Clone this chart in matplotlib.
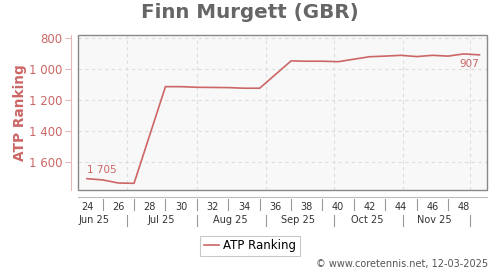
import matplotlib
matplotlib.use("Agg")
import matplotlib.pyplot as plt
from matplotlib.patches import Rectangle
from matplotlib.ticker import FuncFormatter
from datetime import date

# ---- data ----
weeks = [24, 25, 26, 27, 29, 30, 31, 32, 33, 34, 35, 37, 38, 39, 40, 42, 43, 44, 45, 46, 47, 48, 49]
ranking = [1705, 1713, 1733, 1735, 1112, 1112, 1116, 1117, 1118, 1122, 1122,
           946, 948, 948, 951, 919, 915, 910, 918, 910, 915, 901, 907]
week_ticks = list(range(24, 49, 2))
week_separators = list(range(25, 48, 2))
month_labels = ["Jun 25", "Jul 25", "Aug 25", "Sep 25", "Oct 25", "Nov 25"]
month_mids = [date(2025, 6, 16), date(2025, 7, 16), date(2025, 8, 16),
              date(2025, 9, 15), date(2025, 10, 16), date(2025, 11, 15)]
month_starts = [date(2025, 7, 1), date(2025, 8, 1), date(2025, 9, 1),
                date(2025, 10, 1), date(2025, 11, 1), date(2025, 12, 1)]
anchor = date(2025, 6, 13)  # date of week 24 position


def wk(d):
    return 24 + (d - anchor).days / 7.0


red = "#cc6666"
fig = plt.figure(figsize=(5, 2.7), dpi=100)
ax = fig.add_axes([78 / 500, 1 - 190 / 270, (487 - 78) / 500, (190 - 35) / 270])
ax.set_facecolor("#f8f8f8")

ax.plot(weeks, ranking, color=red, lw=1.2, label="ATP Ranking", zorder=3)
ax.set_xlim(23.43, 49.48)
ax.set_ylim(1778, 779)

# frame
ax.add_patch(Rectangle((0, 0), 1, 1, transform=ax.transAxes, fill=False,
                       ec="#888888", lw=1.0, zorder=5, clip_on=False))
for s in ["top", "right"]:
    ax.spines[s].set_visible(False)
ax.spines["left"].set_position(("outward", 5))
ax.spines["left"].set_color("#e8b8b8")
ax.spines["bottom"].set_position(("outward", 5))
ax.spines["bottom"].set_color("#bbbbbb")

# y axis
ax.set_yticks([800, 1000, 1200, 1400, 1600])
ax.yaxis.set_major_formatter(FuncFormatter(lambda v, p: f"{int(v):,}".replace(",", " ")))
ax.tick_params(axis="y", colors="#e8b8b8", labelcolor=red, labelsize=8.5, length=4, pad=2)
ax.set_ylabel("ATP Ranking", color=red, fontsize=9.9, fontweight="bold")
ax.yaxis.set_label_coords((27.5 - 78) / 409, 0.5)

# x axis
ax.set_xticks(week_ticks)
ax.set_xticklabels([str(w) for w in week_ticks])
ax.tick_params(axis="x", length=0, labelsize=7, labelcolor="#333333", pad=3.5)

# grids
for v in [800, 1000, 1200, 1400, 1600]:
    ax.axhline(v, color="#dddddd", lw=0.8, ls=(0, (3, 3)), zorder=1)
for d in month_starts:
    ax.axvline(wk(d), color="#dddddd", lw=0.8, ls=(0, (3, 3)), zorder=1)

tr = ax.get_xaxis_transform()
for w in week_separators:
    ax.plot([w, w], [-0.058, -0.129], transform=tr, color="#999999", lw=0.8, clip_on=False)
for d in month_starts:
    ax.plot([wk(d), wk(d)], [-0.161, -0.232], transform=tr, color="#999999", lw=0.8, clip_on=False)
for lbl, d in zip(month_labels, month_mids):
    ax.text(wk(d), -0.194, lbl, transform=tr, ha="center", va="center", fontsize=7, color="#333333")

# annotations
ax.annotate(f"{ranking[0]:,}".replace(",", " "), (weeks[0], ranking[0]), xytext=(0, 6.5),
            textcoords="offset points", ha="left", va="center", fontsize=7.5, color=red)
ax.annotate(f"{ranking[-1]}", (weeks[-1], ranking[-1]), xytext=(0, -6.5),
            textcoords="offset points", ha="right", va="center", fontsize=7.5, color=red)

fig.text(0.5, 1 - 13 / 270, "Finn Murgett (GBR)", ha="center", va="center",
         fontsize=14.3, fontweight="bold", color="#666666")

leg = fig.legend(loc="center", bbox_to_anchor=(250 / 500, 1 - 246 / 270), fontsize=8.5,
                 frameon=True, fancybox=False, handlelength=1.27, borderpad=0.3,
                 handletextpad=0.4, borderaxespad=0)
leg.get_frame().set_edgecolor("#bbbbbb")
leg.get_frame().set_linewidth(0.8)

fig.text(488 / 500, 1 - 264 / 270, "\u00a9 www.coretennis.net, 12-03-2025", ha="right",
         va="center", fontsize=7, color="#555555")

fig.savefig("out.png", dpi=100)
